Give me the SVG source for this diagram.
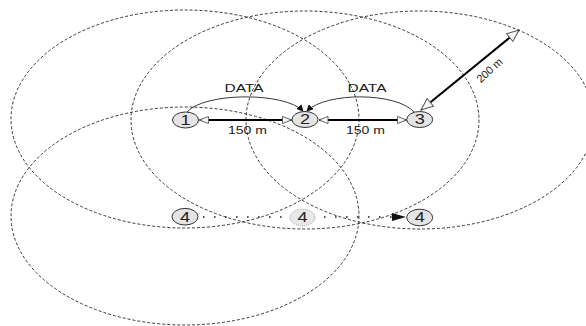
<svg xmlns="http://www.w3.org/2000/svg" width="586" height="326" viewBox="0 0 586 326">
  <style>
    .range { fill: none; stroke: #222; stroke-width: 0.9; stroke-dasharray: 3 2; }
    .node { fill: #e4e4e4; stroke: #333; stroke-width: 1; }
    .ghost { fill: #e8e8e8; stroke: #888; stroke-width: 0.8; stroke-dasharray: 1 1; }
    .num { font-family: "Liberation Sans", Arial, sans-serif; font-size: 14px; fill: #222; text-anchor: middle; }
    .lbl { font-family: "Liberation Sans", Arial, sans-serif; font-size: 11px; fill: #222; text-anchor: middle; }
    .dist { fill: none; stroke: #000; stroke-width: 2; }
    .data { fill: none; stroke: #222; stroke-width: 0.9; }
    .move { fill: none; stroke: #222; stroke-width: 1.6; stroke-dasharray: 1.6 9.4; }
  </style>
  <defs>
    <marker id="open" viewBox="0 0 12 10" refX="11" refY="5" markerWidth="11" markerHeight="9" markerUnits="userSpaceOnUse" orient="auto-start-reverse">
      <path d="M1,1 L11,5 L1,9 z" fill="#f4f4f4" stroke="#555" stroke-width="1"/>
    </marker>
    <marker id="openBig" viewBox="0 0 14 12" refX="13" refY="6" markerWidth="14" markerHeight="12" markerUnits="userSpaceOnUse" orient="auto-start-reverse">
      <path d="M1,1 L13,6 L1,11 z" fill="#f4f4f4" stroke="#555" stroke-width="1"/>
    </marker>
    <marker id="solid" viewBox="0 0 8 8" refX="7" refY="4" markerWidth="7" markerHeight="7" markerUnits="userSpaceOnUse" orient="auto">
      <path d="M0,0 L8,4 L0,8 z" fill="#111"/>
    </marker>
  </defs>

  <!-- transmission ranges -->
  <g id="ranges">
    <ellipse class="range" cx="185" cy="119" rx="174" ry="109"/>
    <ellipse class="range" cx="305" cy="120" rx="174" ry="109"/>
    <ellipse class="range" cx="420" cy="120" rx="174" ry="109"/>
    <ellipse class="range" cx="185" cy="216" rx="174" ry="109"/>
  </g>

  <!-- links and labels -->
  <g id="connectors">
    <path class="data" d="M187,112 C205,92 285,92 303,111" marker-end="url(#solid)"/>
    <path class="data" d="M414,112 C396,92 326,92 307,111" marker-end="url(#solid)"/>
    <line class="dist" x1="199.5" y1="120" x2="291.5" y2="120" marker-start="url(#open)" marker-end="url(#open)"/>
    <line class="dist" x1="319" y1="120" x2="406.5" y2="120" marker-start="url(#open)" marker-end="url(#open)"/>
    <line class="dist" stroke-width="1.6" x1="421" y1="110" x2="519" y2="30" marker-start="url(#openBig)" marker-end="url(#openBig)"/>
    <line class="move" x1="203" y1="217" x2="392" y2="217"/>
    <path d="M392,213 L406,217 L392,221 z" fill="#111"/>
    <text class="lbl" x="244" y="92" textLength="39" lengthAdjust="spacingAndGlyphs">DATA</text>
    <text class="lbl" x="367" y="92" textLength="39" lengthAdjust="spacingAndGlyphs">DATA</text>
    <text class="lbl" x="247.5" y="134" textLength="39" lengthAdjust="spacingAndGlyphs">150 m</text>
    <text class="lbl" x="365.5" y="134" textLength="39" lengthAdjust="spacingAndGlyphs">150 m</text>
    <text class="lbl" font-size="10.5" transform="translate(492,73) rotate(-42)" x="0" y="0">200 m</text>
  </g>

  <g id="node1">
    <ellipse class="node" cx="185.5" cy="120" rx="13" ry="8"/>
    <text class="num" x="185.5" y="125" transform="translate(185.5,0) scale(1.3,1) translate(-185.5,0)">1</text>
  </g>
  <g id="node2">
    <ellipse class="node" cx="305" cy="119.5" rx="13" ry="8"/>
    <text class="num" x="305" y="124.5" transform="translate(305,0) scale(1.3,1) translate(-305,0)">2</text>
  </g>
  <g id="node3">
    <ellipse class="node" cx="419.7" cy="119.5" rx="13" ry="8"/>
    <text class="num" x="419.7" y="124.5" transform="translate(419.7,0) scale(1.3,1) translate(-419.7,0)">3</text>
  </g>
  <g id="node4a">
    <ellipse class="node" cx="185" cy="216.7" rx="13" ry="8.3"/>
    <text class="num" x="185" y="221.7" transform="translate(185,0) scale(1.3,1) translate(-185,0)">4</text>
  </g>
  <g id="node4b">
    <ellipse class="ghost" cx="302.5" cy="217.5" rx="12.5" ry="8.3"/>
    <text class="num" x="302.5" y="222.5" transform="translate(302.5,0) scale(1.3,1) translate(-302.5,0)">4</text>
  </g>
  <g id="node4c">
    <ellipse class="node" cx="419.7" cy="217.5" rx="13" ry="8.3"/>
    <text class="num" x="419.7" y="222.5" transform="translate(419.7,0) scale(1.3,1) translate(-419.7,0)">4</text>
  </g>
</svg>
